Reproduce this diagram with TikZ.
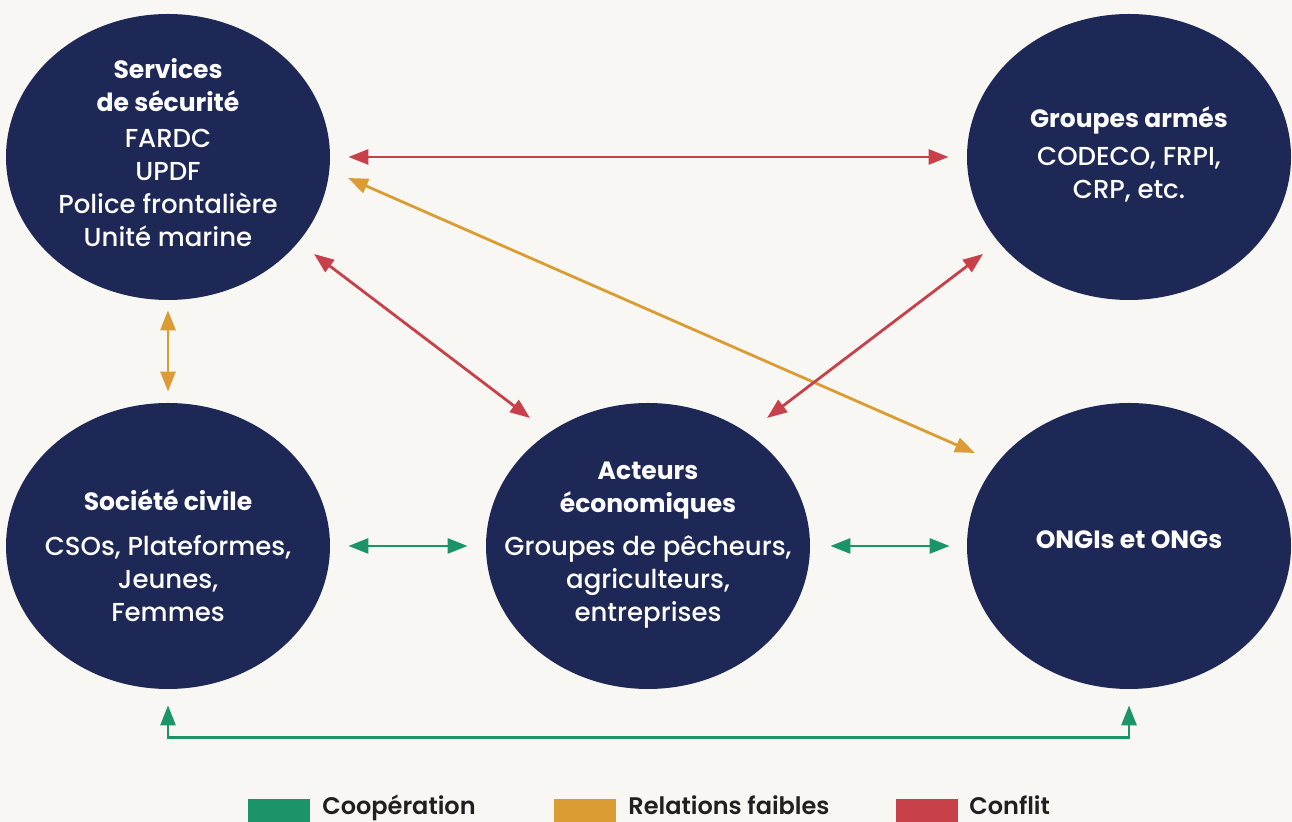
\documentclass[tikz,border=0pt]{standalone}
\usepackage{fontspec}
\setmainfont{Poppins}
\IfFontExistsTF{Poppins-Medium}{\newfontfamily\moyen{Poppins-Medium}}{%
  \IfFontExistsTF{Poppins Medium}{\newfontfamily\moyen{Poppins Medium}}{\newfontfamily\moyen{Poppins}[FakeBold=0.5]}}
\IfFontExistsTF{Poppins-SemiBold}{\newfontfamily\gras{Poppins-SemiBold}}{%
  \IfFontExistsTF{Poppins SemiBold}{\newfontfamily\gras{Poppins SemiBold}}{\newfontfamily\gras{Poppins}[UprightFont=*-Bold]}}
\usetikzlibrary{shapes.geometric,arrows.meta}

\definecolor{navy}{HTML}{1E2856}
\definecolor{rouge}{HTML}{C8414A}
\definecolor{jaune}{HTML}{DA9C33}
\definecolor{vert}{HTML}{1B9468}
\definecolor{fond}{HTML}{F8F7F4}
\definecolor{encre}{HTML}{231F20}

\newcommand\titre[1]{{\normalfont\bfseries\fontsize{12.5}{16.5}\selectfont #1}}

\tikzset{
  bulle/.style={ellipse, fill=navy, minimum width=162pt, minimum height=143pt, inner sep=0pt},
  texte/.style={text=white, align=center, inner sep=0pt, font=\moyen\fontsize{13}{16.5}\selectfont},
  lien/.style={line width=1.4pt, {Triangle[length=10pt,width=7.5pt]}-{Triangle[length=10pt,width=7.5pt]}},
  conflit/.style={lien, draw=rouge},
  faible/.style={lien, draw=jaune},
  coop/.style={lien, draw=vert},
  legbox/.style={minimum width=31pt, minimum height=14pt, inner sep=0pt},
  legtexte/.style={text=encre, inner sep=0pt, font=\gras\fontsize{12}{14}\selectfont}
}

\begin{document}
\begin{tikzpicture}[x=0.5pt, y=-0.5pt]
    \fill[fond] (0,0) rectangle (1292,822);
    \useasboundingbox (0,0) rectangle (1292,822);

    % les cinq acteurs
    \node[bulle] (secu) at (168,157) {};
    \node[bulle] (armes) at (1129,157) {};
    \node[bulle] (soc) at (168,546) {};
    \node[bulle] (eco) at (648,546) {};
    \node[bulle] (ongi) at (1129,546) {};

    \node[texte] (secu-t) at (168,152.5) {\titre{Services}\\ \titre{de sécurité}\\[1.5pt] FARDC\\ UPDF\\ Police frontalière\\ Unité marine};
    \node[texte] (armes-t) at (1129,154.5) {\titre{Groupes armés}\\[2.5pt] CODECO, FRPI,\\ CRP, etc.};
    \node[texte] (soc-t) at (168,556) {\titre{Société civile}\\[6pt] CSOs, Plateformes,\\ Jeunes,\\ Femmes};
    \node[texte] (eco-t) at (648,545.5) {\titre{Acteurs}\\ \titre{économiques}\\[5pt] Groupes de pêcheurs,\\ agriculteurs,\\ entreprises};
    \node[texte] (ongi-t) at (1129,540) {\titre{ONGIs et ONGs}};

    % relations
    \draw[conflit, shorten <=9pt, shorten >=9pt] (secu) -- (armes);
    \draw[faible] ([shift={(180,21)}]secu.center) -- ([shift={(-154,-93)}]ongi.center);
    \draw[conflit] ([shift={(146,97)}]secu.center) -- ([shift={(-118,-128)}]eco.center);
    \draw[conflit] ([shift={(119,-128)}]eco.center) -- ([shift={(-146,97)}]armes.center);
    \draw[faible, shorten <=5pt, shorten >=5.5pt] (secu.south) -- (soc.north);
    \draw[coop, shorten <=9pt, shorten >=9pt] (soc.east) -- (eco.west);
    \draw[coop, shorten <=10pt, shorten >=8.5pt] (eco.east) -- (ongi.west);
    \draw[coop, shorten <=8pt, shorten >=8pt] (soc.south) -- ++(0,48) -| (ongi.south);

    % legende
    \node[legbox, fill=vert] (l-coop) at (279,813) {};
    \node[legtexte, anchor=base west] (t-coop) at (322,815) {Coopération};
    \node[legbox, fill=jaune] (l-faible) at (585,813) {};
    \node[legtexte, anchor=base west] (t-faible) at (628,815) {Relations faibles};
    \node[legbox, fill=rouge] (l-conflit) at (927,813) {};
    \node[legtexte, anchor=base west] (t-conflit) at (969,815) {Conflit};
\end{tikzpicture}
\end{document}
